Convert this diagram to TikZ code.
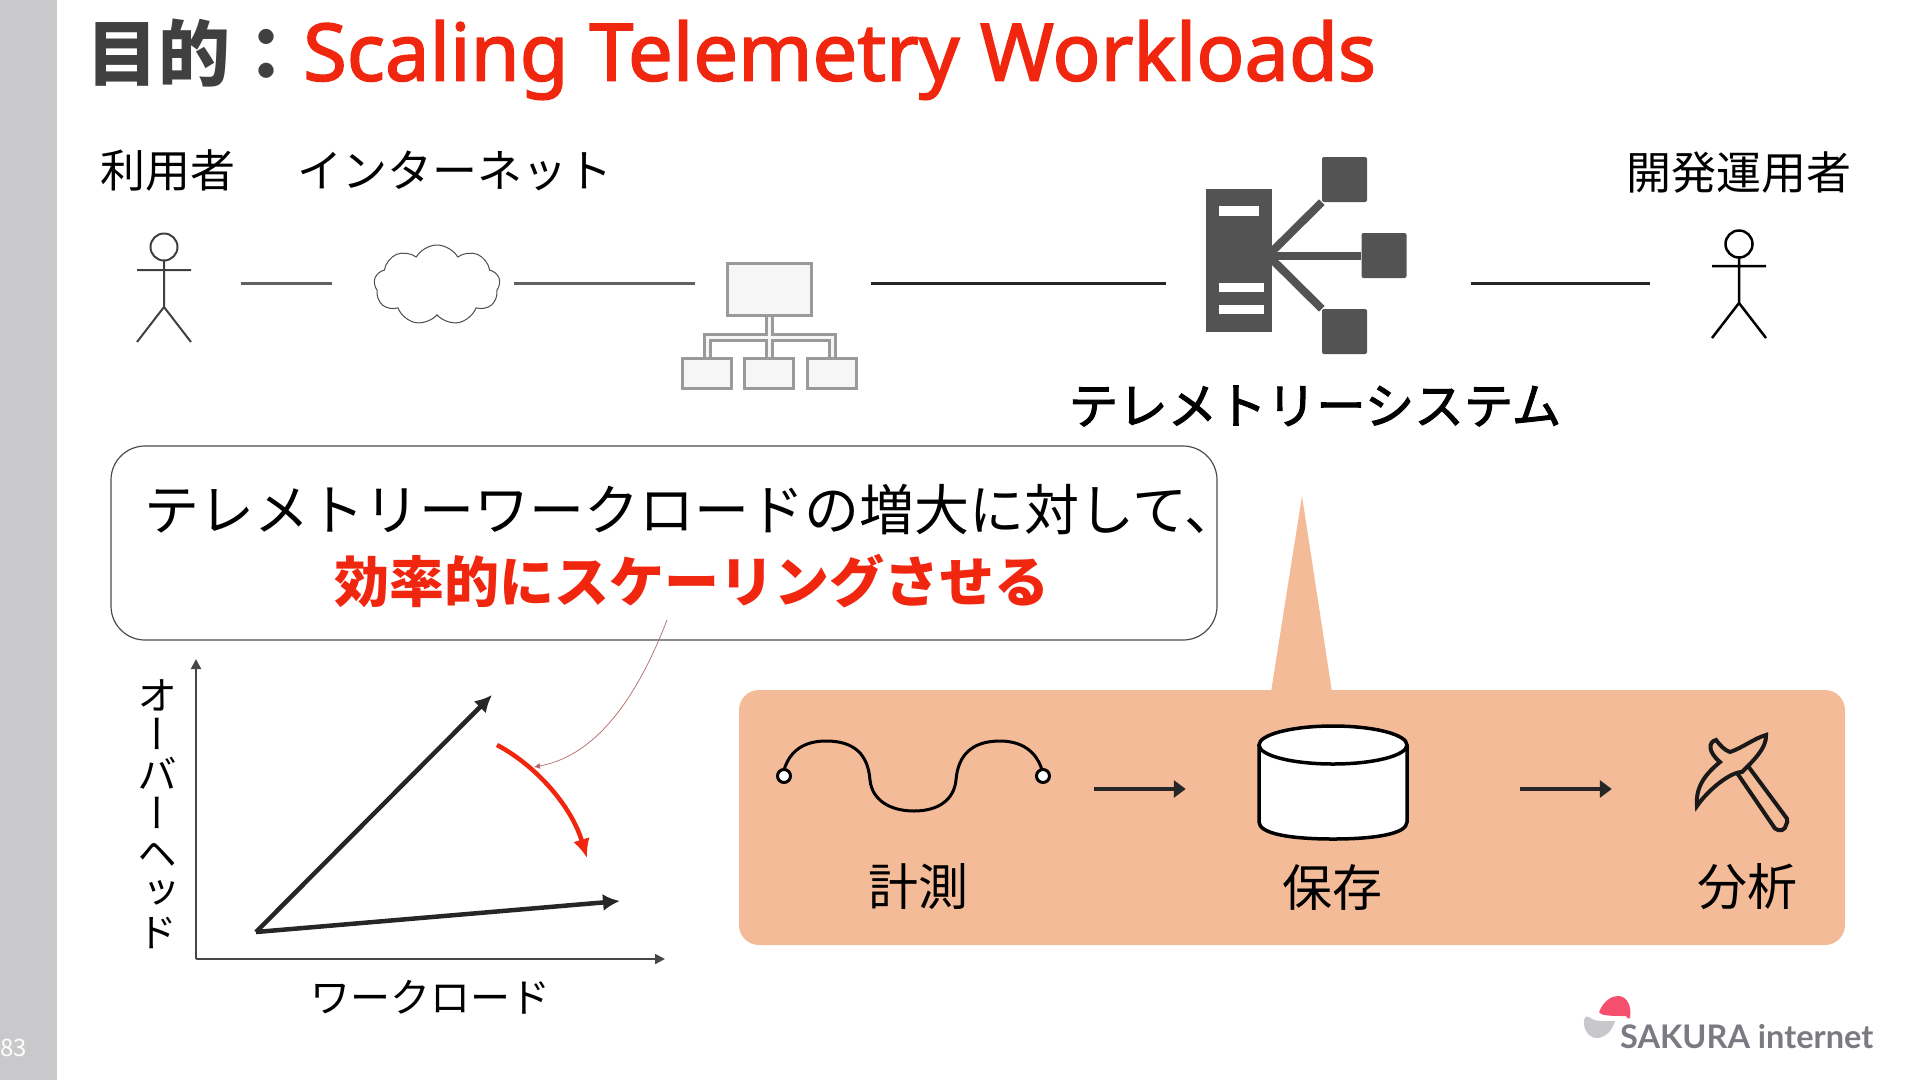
\documentclass[tikz,border=0pt]{standalone}
\usepackage{fontspec}
\setmainfont{Noto Sans CJK JP}
\newfontfamily\latofont{Lato}
\newfontfamily\medfont[FakeBold=2]{Noto Sans CJK JP}
\newfontfamily\titlefont[FakeBold=2]{Noto Sans}
\newfontfamily\vertfont[RawFeature=+vert]{Noto Sans CJK JP}
\usetikzlibrary{arrows.meta,positioning,shapes.geometric,shapes.symbols}
\definecolor{sidegray}{HTML}{C9C9CB}
\definecolor{titlered}{HTML}{F0260F}
\definecolor{titledark}{HTML}{404040}
\definecolor{iconkey}{HTML}{535353}
\definecolor{orgline}{HTML}{9A9A9A}
\definecolor{orgfill}{HTML}{F6F6F6}
\definecolor{peach}{HTML}{F4BB98}
\definecolor{logored}{HTML}{F4506E}
\definecolor{logogray}{HTML}{C8C8CC}
\definecolor{logotext}{HTML}{7A7A82}

\begin{document}
\begin{tikzpicture}[
  x=1pt, y=-1pt,
  txt/.style={inner sep=0pt, font=\fontsize{45}{45}\selectfont},
  stub/.style={inner sep=0pt},
  wire/.style={line width=3pt},
  orgbox/.style={draw=orgline, fill=orgfill, line width=3.5pt, inner sep=0pt},
  bus/.style={draw=orgline, double=orgfill, double distance=3pt, line width=3pt},
  sat/.style={fill=iconkey, rounded corners=2pt, inner sep=0pt, minimum width=45pt, minimum height=45pt},
  slot/.style={fill=white, inner sep=0pt},
  spoke/.style={iconkey, line width=8pt},
  flow/.style={-{Triangle[length=12pt, width=17pt]}, line width=4pt, black!85},
  axis/.style={-{Triangle[length=10pt, width=10pt]}, line width=2pt, black!72},
  trend/.style={-{Latex[length=17pt, width=17pt]}, line width=4.5pt, black!85},
  term/.style={circle, draw, fill=white, line width=3pt, inner sep=0pt, minimum size=13pt}
]
\useasboundingbox (0,0) rectangle (1920,1080);
\fill[sidegray] (0,0) rectangle (57,1080);
\node[stub, white, font=\fontsize{24}{24}\selectfont] (page) at (14,1048) {83};

\node[stub, anchor=west, titledark, font=\fontsize{72}{72}\selectfont\bfseries] (ttl) at (86,53) {目的：};
\node[stub, anchor=west, titlered, font=\fontsize{79.5}{79.5}\selectfont\titlefont] (ttlen) at (303,60) {Scaling Telemetry Workloads};

\node[txt] (userlbl) at (168,171) {利用者};
\node[txt] (netlbl) at (455,171) {インターネット};
\node[txt] (devlbl) at (1739,173) {開発運用者};
\node[stub, font=\fontsize{49.5}{49.5}\selectfont\medfont] (telelbl) at (1315,406) {テレメトリーシステム};

\node[stub, minimum width=54pt, minimum height=118pt] (user) at (164,283) {};
\draw[black!75, line width=2pt] (164,247) circle (13.5)
  (164,260.5) -- (164,307) (137,270) -- (191,270) (137,342) -- (164,307) -- (191,342);
\node[cloud, draw=black!70, line width=1pt, cloud puffs=9, cloud puff arc=120, aspect=1.6, inner sep=0pt, minimum width=126pt, minimum height=80pt] (net) at (437,285) {};

\draw[bus] (769.5,317) -- (769.5,357) (707,357) -- ++(0,-20) -| (832,357);
\node[orgbox, minimum width=84pt, minimum height=52pt] (gatetop) at (769.5,289.5) {};
\node[orgbox, minimum width=49pt, minimum height=30pt] (kida) at (707,373.5) {};
\node[orgbox, minimum width=49pt, minimum height=30pt] (kidb) at (769,373.5) {};
\node[orgbox, minimum width=49pt, minimum height=30pt] (kidc) at (832,373.5) {};

\node[fill=iconkey, inner sep=0pt, minimum width=66pt, minimum height=143pt] (tele) at (1239,260.5) {};
\node[slot, minimum width=40pt, minimum height=10pt] (slota) at (1239,211) {};
\node[slot, minimum width=45pt, minimum height=9pt] (slotb) at (1241.5,287.5) {};
\node[slot, minimum width=45pt, minimum height=9pt] (slotc) at (1241.5,309.5) {};
\node[sat] (sata) at (1344.5,179.5) {};
\node[sat] (satb) at (1384,255.5) {};
\node[sat] (satc) at (1344.5,331.5) {};
\coordinate (hub) at (1268,255.5);
\draw[spoke] (hub) -- (sata.south west);
\draw[spoke] (hub) -- (satb.west);
\draw[spoke] (hub) -- (satc.north west);

\node[stub, minimum width=54pt, minimum height=118pt] (devops) at (1739,283) {};
\draw[black, line width=2.5pt] (1739,244) circle (13.5)
  (1739,257.5) -- (1739,303) (1712,266) -- (1766,266) (1712,338) -- (1739,303) -- (1766,338);

\draw[wire, black!62, shorten <=50pt, shorten >=42pt] (user.east) -- (user.east -| net.west);
\draw[wire, black!62, shorten <=14pt, shorten >=31pt] (user.east -| net.east) -- (user.east -| gatetop.west);
\draw[wire, black!85, shorten <=58pt, shorten >=40pt] (user.east -| gatetop.east) -- (user.east -| tele.west);
\draw[wire, black!85, shorten <=64pt, shorten >=62pt] (devops.west -| satb.east) -- (devops.west);

\node[draw=black!70, line width=1.2pt, rounded corners=34pt, minimum width=1106pt, minimum height=194pt, inner sep=0pt] (callout) at (664,543) {};
\node[stub, anchor=center, align=center, font=\fontsize{55}{71}\selectfont] (msg) at (692,546) {テレメトリーワークロードの増大に対して、\\[1pt]{\color{titlered}\bfseries 効率的にスケーリングさせる}};

\node[fill=peach, rounded corners=20pt, inner sep=0pt, minimum width=1106pt, minimum height=255pt] (panel) at (1292,817.5) {};
\fill[peach] (1302,496) -- (1332,692) -- (1271,692) -- cycle;

\node[stub, minimum width=274pt, minimum height=80pt] (wave) at (913,789) {};
\draw[black, line width=3pt] (784,770) .. controls (790,750) and (805,741) .. (826,741)
  .. controls (855,741) and (868,755) .. (870,780) .. controls (872,800) and (890,811) .. (914,811)
  .. controls (938,811) and (954,800) .. (956,780) .. controls (958,755) and (972,741) .. (1000,741)
  .. controls (1020,741) and (1036,750) .. (1042,770);
\node[term] (terma) at (784,776) {};
\node[term] (termb) at (1043,776) {};
\node[stub, minimum width=150pt, minimum height=114pt] (store) at (1333,783) {};
\draw[black, line width=3.5pt, fill=white] (1259,745) -- (1259,822) .. controls (1259,834) and (1292,839) .. (1333,839) .. controls (1374,839) and (1407,834) .. (1407,822) -- (1407,745);
\draw[black, line width=3.5pt, fill=white] (1333,745) ellipse [x radius=74, y radius=19];
\node[stub, minimum width=100pt, minimum height=100pt] (pick) at (1742,783) {};
\draw[black!90, line width=4pt, fill=peach, rounded corners=2pt] (1735,770) -- (1745,762) -- (1788,820) -- (1784,830) -- (1776,830) -- cycle;
\draw[black!90, line width=4pt, fill=peach] (1697,806) .. controls (1695,785) and (1708,772) .. (1720,762) .. controls (1708,752) and (1708,742) .. (1716,740) .. controls (1720,745) and (1724,750) .. (1730,752) .. controls (1742,748) and (1755,738) .. (1766,735) .. controls (1767,748) and (1752,762) .. (1742,772) .. controls (1730,772) and (1708,790) .. (1697,806) -- cycle;

\draw[flow, shorten <=44pt, shorten >=72pt] (wave.east) -- (wave.east -| store.west);
\draw[flow, shorten <=112pt, shorten >=80pt] (wave.east -| store.east) -- (wave.east -| pick.west);

\node[txt, font=\fontsize{50}{50}\selectfont] (meas) at (918,887) {計測};
\node[txt, font=\fontsize{50}{50}\selectfont] (keep) at (1332,887) {保存};
\node[txt, font=\fontsize{50}{50}\selectfont] (anal) at (1747,887) {分析};

\coordinate (orig) at (196,959);
\coordinate (ytip) at (196,659);
\coordinate (xtip) at (665,959);
\coordinate (base) at (256,932);
\coordinate (hightip) at (492,695);
\coordinate (lowtip) at (620,901);
\coordinate (benda) at (497,745);
\coordinate (bendb) at (587,858);
\coordinate (leadfrom) at (667,620);
\coordinate (leadto) at (534,767);
\draw[axis] (orig) -- (ytip);
\draw[axis] (orig) -- (xtip);
\draw[trend] (base) -- (hightip);
\draw[trend] (base) -- (lowtip);
\draw[-{Latex[length=19pt, width=17pt]}, titlered, line width=4.5pt] (benda) .. controls (535,765) and (571,805) .. (bendb);
\draw[-{Latex[length=6pt, width=6pt]}, red!50!black!60, line width=.7pt] (leadfrom) .. controls (640,690) and (600,755) .. (leadto);

\node[stub, align=center, font=\fontsize{40}{39.5}\selectfont\vertfont] (ylbl) at (157,814) {オ\\ー\\バ\\ー\\ヘ\\ッ\\ド};
\node[txt, font=\fontsize{40}{40}\selectfont] (xlbl) at (430,997) {ワークロード};

\fill[logored] (1599,1012) .. controls (1604,1000) and (1612,996) .. (1618,996) .. controls (1627,996) and (1632,1006) .. (1630,1018) .. controls (1629,1020) and (1627,1018) .. (1626,1016) .. controls (1616,1016) and (1606,1016) .. (1601,1014) -- cycle;
\fill[logogray] (1584,1020) .. controls (1585,1015) and (1588,1016) .. (1592,1019) .. controls (1598,1022) and (1608,1021) .. (1615,1021) .. controls (1612,1032) and (1604,1038) .. (1597,1038) .. controls (1589,1038) and (1583,1030) .. (1584,1020) -- cycle;
\node[stub, anchor=west, logotext, font=\fontsize{32.5}{32.5}\selectfont\latofont\bfseries] (logo) at (1620,1037) {SAKURA internet};
\end{tikzpicture}
\end{document}
